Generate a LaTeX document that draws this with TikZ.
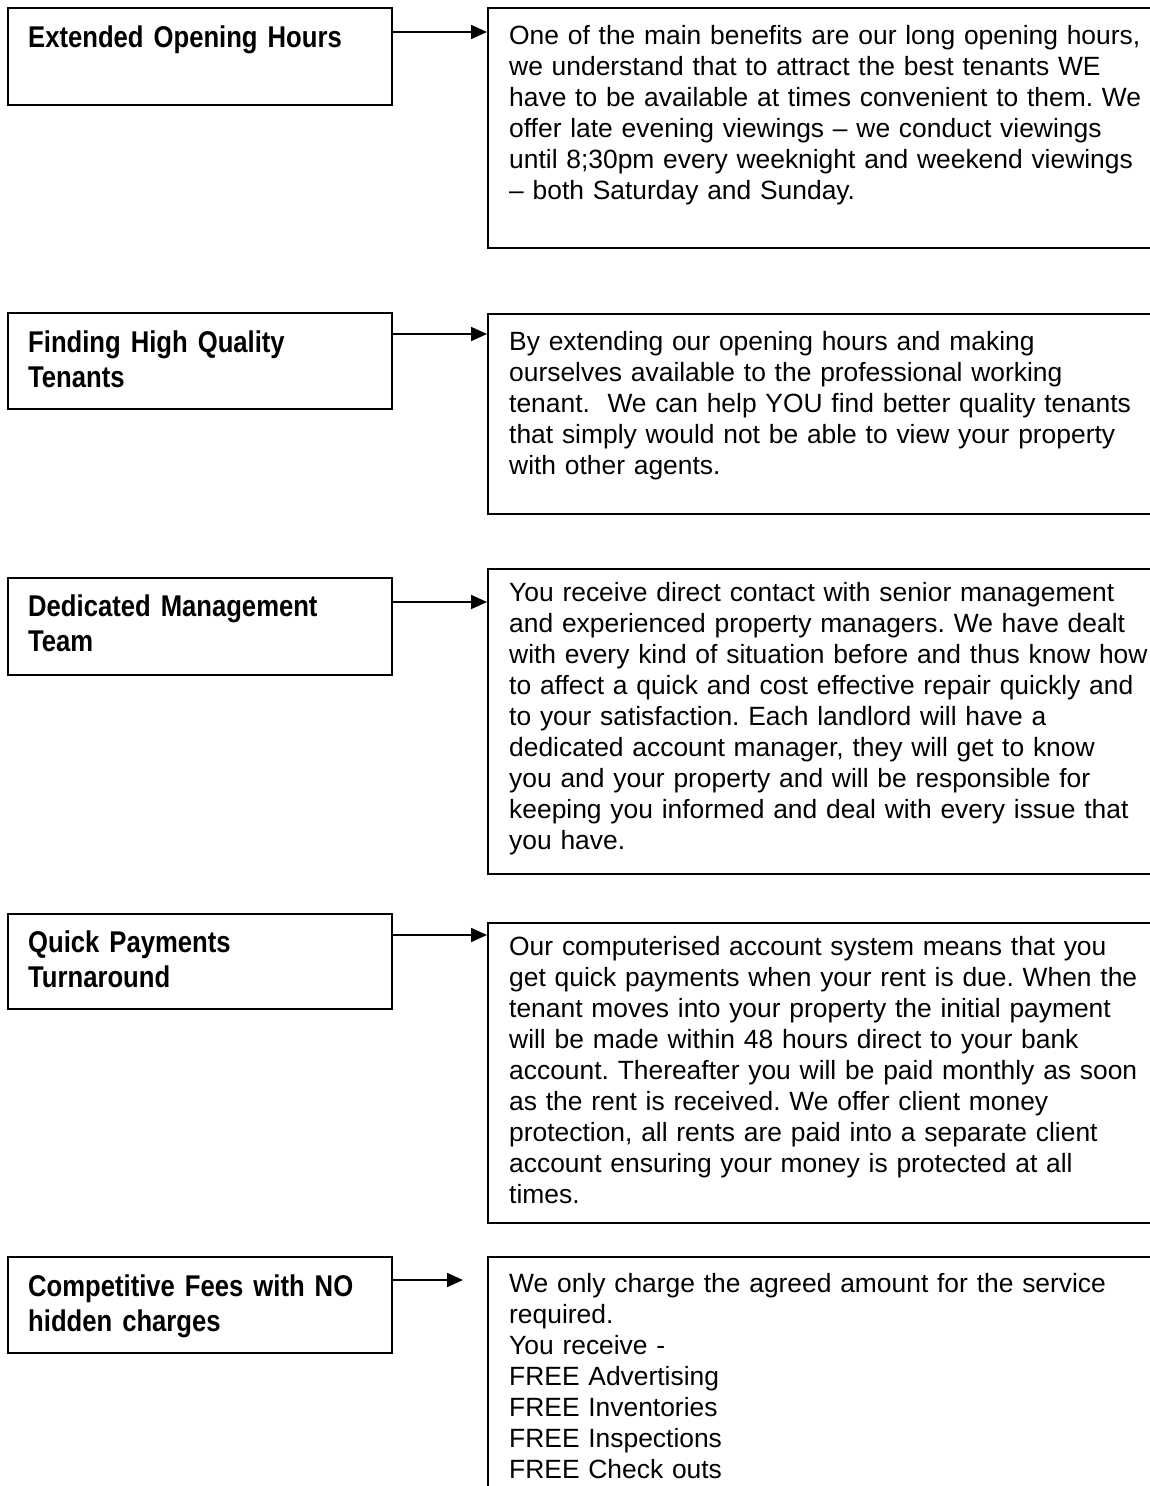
\documentclass[tikz,border=0pt]{standalone}
\usepackage{fontspec}
\setmainfont{Liberation Sans}
\newfontfamily\labelfont[FakeStretch=0.855]{Liberation Sans Bold}
\usetikzlibrary{arrows.meta,calc}
\begin{document}
\frenchspacing
\begin{tikzpicture}[x=1pt,y=-1pt,
  box/.style={draw, line width=1.8pt, rectangle, inner sep=0pt, anchor=north west},
  lbl/.style={anchor=base west, inner sep=0pt, text width=370pt, align=left,
    font=\labelfont\fontsize{30}{35}\selectfont},
  txt/.style={anchor=base west, inner sep=0pt, text width=660pt, align=left,
    font=\fontsize{26.4}{31}\selectfont},
  arr/.style={line width=1.8pt, -{Triangle[length=16pt,width=14pt]}}]
\useasboundingbox (0,0) rectangle (1150,1486);
\clip (0,0) rectangle (1150,1486);
\fill[white] (0,0) rectangle (1150,1486);

% left boxes
\node[box, minimum width=384pt, minimum height=97pt] (L1) at (7,7) {};
\node[box, minimum width=384pt, minimum height=96pt] (L2) at (7,312) {};
\node[box, minimum width=384pt, minimum height=97pt] (L3) at (7,577) {};
\node[box, minimum width=384pt, minimum height=95pt] (L4) at (7,913) {};
\node[box, minimum width=384pt, minimum height=96pt] (L5) at (7,1256) {};

% right boxes
\node[box, minimum width=700pt, minimum height=240pt] (R1) at (487,7) {};
\node[box, minimum width=700pt, minimum height=200pt] (R2) at (487,313) {};
\node[box, minimum width=700pt, minimum height=305pt] (R3) at (487,568) {};
\node[box, minimum width=700pt, minimum height=300pt] (R4) at (487,922) {};
\node[box, minimum width=700pt, minimum height=260pt] (R5) at (487,1256) {};

% labels
\node[lbl] (N1) at (28,47) {Extended Opening Hours};
\node[lbl] (N2) at (28,352) {Finding High Quality\\Tenants};
\node[lbl] (N3) at (28,616) {Dedicated Management\\Team};
\node[lbl] (N4) at (28,952) {Quick Payments\\Turnaround};
\node[lbl] (N5) at (28,1296) {Competitive Fees with NO\\hidden charges};

% texts
\node[txt] (T1) at (509,44) {One of the main benefits are our long opening hours,\\
we understand that to attract the best tenants WE\\
have to be available at times convenient to them. We\\
offer late evening viewings -- we conduct viewings\\
until 8;30pm every weeknight and weekend viewings\\
-- both Saturday and Sunday.};
\node[txt] (T2) at (509,350) {By extending our opening hours and making\\
ourselves available to the professional working\\
tenant.\ \ We can help YOU find better quality tenants\\
that simply would not be able to view your property\\
with other agents.};
\node[txt] (T3) at (509,601) {You receive direct contact with senior management\\
and experienced property managers. We have dealt\\
with every kind of situation before and thus know how\\
to affect a quick and cost effective repair quickly and\\
to your satisfaction. Each landlord will have a\\
dedicated account manager, they will get to know\\
you and your property and will be responsible for\\
keeping you informed and deal with every issue that\\
you have.};
\node[txt] (T4) at (509,955) {Our computerised account system means that you\\
get quick payments when your rent is due. When the\\
tenant moves into your property the initial payment\\
will be made within 48 hours direct to your bank\\
account. Thereafter you will be paid monthly as soon\\
as the rent is received. We offer client money\\
protection, all rents are paid into a separate client\\
account ensuring your money is protected at all\\
times.};
\node[txt] (T5) at (509,1292) {We only charge the agreed amount for the service\\
required.\\
You receive -\\
FREE Advertising\\
FREE Inventories\\
FREE Inspections\\
FREE Check outs};

% arrows
\coordinate (s1) at (0,32);
\coordinate (s2) at (0,334);
\coordinate (s3) at (0,602);
\coordinate (s4) at (0,935);
\coordinate (e5) at (463,1280);
\draw[arr] (L1.east |- s1) -- (R1.west |- s1);
\draw[arr] (L2.east |- s2) -- (R2.west |- s2);
\draw[arr] (L3.east |- s3) -- (R3.west |- s3);
\draw[arr] (L4.east |- s4) -- (R4.west |- s4);
\draw[arr] (L5.east |- e5) -- (e5);
\end{tikzpicture}
\end{document}
